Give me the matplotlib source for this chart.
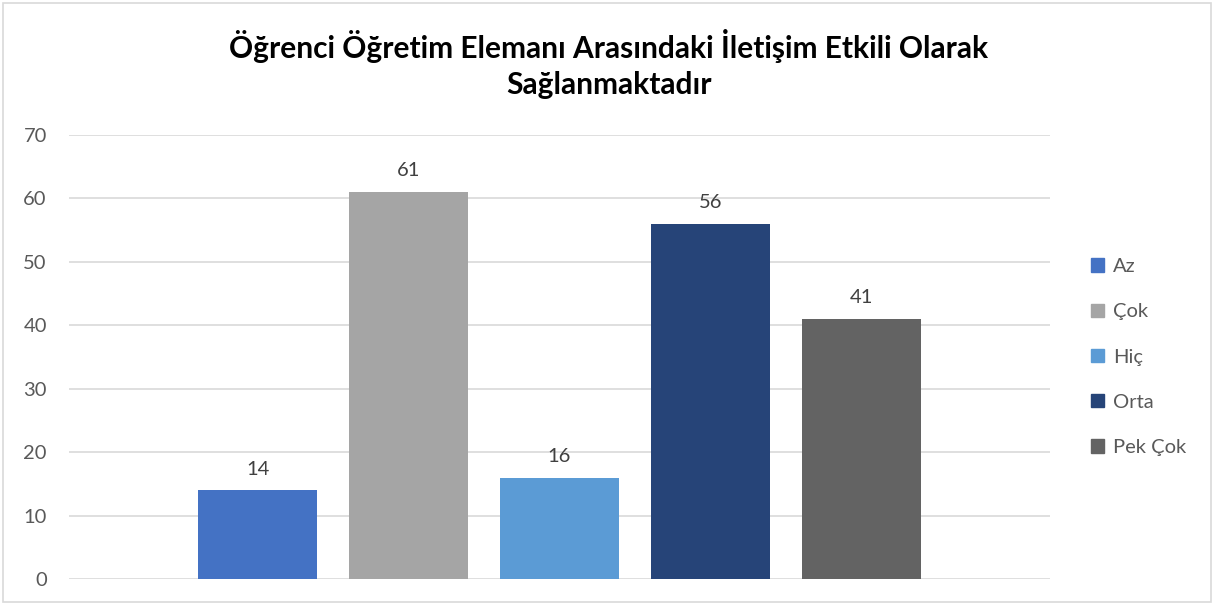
import matplotlib
matplotlib.use("Agg")
import matplotlib.pyplot as plt
from matplotlib.patches import Rectangle

plt.rcParams['font.family'] = ['Lato', 'DejaVu Sans']

# veri
categories = ["Az", "Çok", "Hiç", "Orta", "Pek Çok"]
values = [14, 61, 16, 56, 41]
colors = ["#4472C4", "#A5A5A5", "#5B9BD5", "#264478", "#636363"]
title = "Öğrenci Öğretim Elemanı Arasındaki İletişim Etkili Olarak\nSağlanmaktadır"
yticks = [0, 10, 20, 30, 40, 50, 60, 70]

W, H = 1215, 604
fig = plt.figure(figsize=(W/100, H/100), dpi=100)
ax = fig.add_axes([69/W, 1-579/H, (1050-69)/W, (579-135)/H])

xs = list(range(len(categories)))
bars = ax.bar(xs, values, width=0.79, color=colors, zorder=3)
for b, v in zip(bars, values):
    ax.text(b.get_x()+b.get_width()/2, v+2.0, str(v), ha="center", va="bottom",
            fontsize=14.5, color="#404040")

ax.set_xlim(-1.25, 5.25)
ax.set_ylim(0, 70)
ax.set_yticks(yticks)
ax.set_xticks([])
ax.grid(axis="y", color="#D9D9D9", lw=1.2, zorder=0)
for s in ax.spines.values():
    s.set_visible(False)
ax.tick_params(axis="y", length=0, pad=16, labelsize=14.5, labelcolor="#595959")

fig.text(609/W, 1-64/H, title, ha="center", va="center", fontsize=21.5,
         fontweight="bold", color="black", linespacing=1.35)

handles = [Rectangle((0, 0), 1, 1, color=c) for c in colors]
leg = fig.legend(handles, categories, loc="center left", bbox_to_anchor=(1073/W, 1-357/H),
                 frameon=False, fontsize=14.5, labelcolor="#595959",
                 handlelength=0.65, handleheight=0.65, handletextpad=0.45, labelspacing=1.4)

fig.add_artist(Rectangle((3/W, 2/H), (W-7)/W, (H-5)/H, transform=fig.transFigure,
                         fill=False, ec="#D9D9D9", lw=1.2))

fig.savefig("out.png", dpi=100)
